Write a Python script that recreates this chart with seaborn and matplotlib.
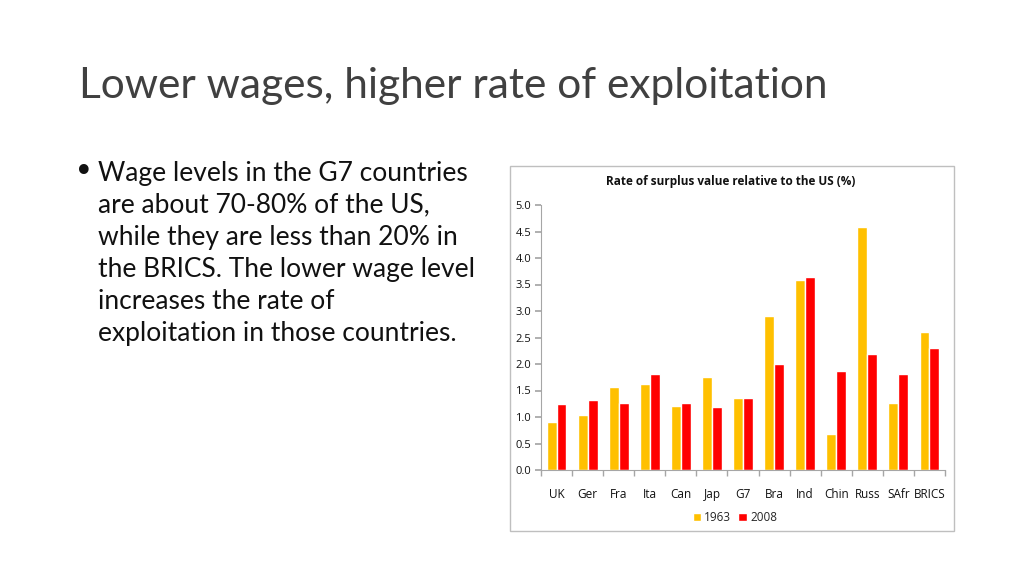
import numpy as np
import pandas as pd
import seaborn as sns
import matplotlib
matplotlib.use("Agg")
import matplotlib.pyplot as plt
from matplotlib.patches import Rectangle

countries = ["UK", "Ger", "Fra", "Ita", "Can", "Jap", "G7", "Bra", "Ind", "Chin", "Russ", "SAfr", "BRICS"]
v1963 = [0.90, 1.04, 1.56, 1.63, 1.21, 1.76, 1.35, 2.91, 3.59, 0.67, 4.58, 1.26, 2.60]
v2008 = [1.25, 1.33, 1.27, 1.81, 1.26, 1.19, 1.35, 2.00, 3.64, 1.86, 2.18, 1.81, 2.30]
years = ["1963", "2008"]
yticks = [0.0, 0.5, 1.0, 1.5, 2.0, 2.5, 3.0, 3.5, 4.0, 4.5, 5.0]

df = pd.DataFrame({
    "country": countries * 2,
    "year": [years[0]] * len(countries) + [years[1]] * len(countries),
    "value": v1963 + v2008,
})

sns.set_theme(style="white")
plt.rcParams["font.family"] = ["Open Sans", "DejaVu Sans"]

fig = plt.figure(figsize=(10.24, 5.76), dpi=100)
fig.patch.set_facecolor("white")

# Slide title
fig.text(79 / 1024, 1 - 86 / 576, "Lower wages, higher rate of exploitation",
         fontsize=30.5, color="#404040", va="center", ha="left",
         family=["Lato", "DejaVu Sans"])

# Bullet text
lines = ["Wage levels in the G7 countries", "are about 70-80% of the US,",
         "while they are less than 20% in", "the BRICS. The lower wage level",
         "increases the rate of", "exploitation in those countries."]
fig.text(74 / 1024, 1 - 172 / 576, "\u2022", fontsize=24, color="#111111", va="center", ha="left",
         family=["DejaVu Sans"])
for i, ln in enumerate(lines):
    fig.text(98 / 1024, 1 - (173 + i * 32.2) / 576, ln, fontsize=19, color="#111111",
             va="center", ha="left", family=["Lato", "DejaVu Sans"])

# Chart frame
fig.patches.append(Rectangle((510 / 1024, 1 - 531 / 576), (954 - 510) / 1024, (531 - 166) / 576,
                             transform=fig.transFigure, fill=False, edgecolor="#BFBFBF", lw=1))

fig.text(731 / 1024, 1 - 182 / 576, "Rate of surplus value relative to the US (%)",
         fontsize=8.5, fontweight="bold", color="#111111", ha="center", va="center")

ax = fig.add_axes([541 / 1024, 1 - 470 / 576, (945 - 541) / 1024, (470 - 205) / 576])
sns.barplot(data=df, x="country", y="value", hue="year", hue_order=years,
            palette=["#FFC000", "#FF0000"], width=0.64, saturation=1, ax=ax, legend=True)
ax.set_ylim(0, 5)
ax.set_xlim(-0.5, len(countries) - 0.5)
ax.set_yticks(yticks)
ax.set_yticklabels([f"{t:.1f}" for t in yticks], fontsize=8, color="#111111")
ax.set_xticks(range(len(countries)))
ax.set_xticklabels(countries, fontsize=8.5, color="#111111")
ax.set_xlabel("")
ax.set_ylabel("")
for s in ["top", "right"]:
    ax.spines[s].set_visible(False)
for s in ["left", "bottom"]:
    ax.spines[s].set_color("#A6A6A6")
    ax.spines[s].set_linewidth(0.8)
ax.tick_params(axis="y", which="major", left=True, length=4, color="#A6A6A6", pad=3)
ax.tick_params(axis="x", which="major", bottom=False, pad=7)
ax.set_xticks(np.arange(-0.5, len(countries), 1.0), minor=True)
ax.tick_params(axis="x", which="minor", bottom=True, length=4, color="#A6A6A6")
ax.grid(False)

leg = ax.legend(loc="upper center", bbox_to_anchor=(0.48, -0.115), ncol=2, frameon=False,
                fontsize=8.5, handlelength=0.7, handleheight=0.7, handletextpad=0.3,
                columnspacing=0.6)

fig.savefig("out.png", dpi=100, facecolor="white")
